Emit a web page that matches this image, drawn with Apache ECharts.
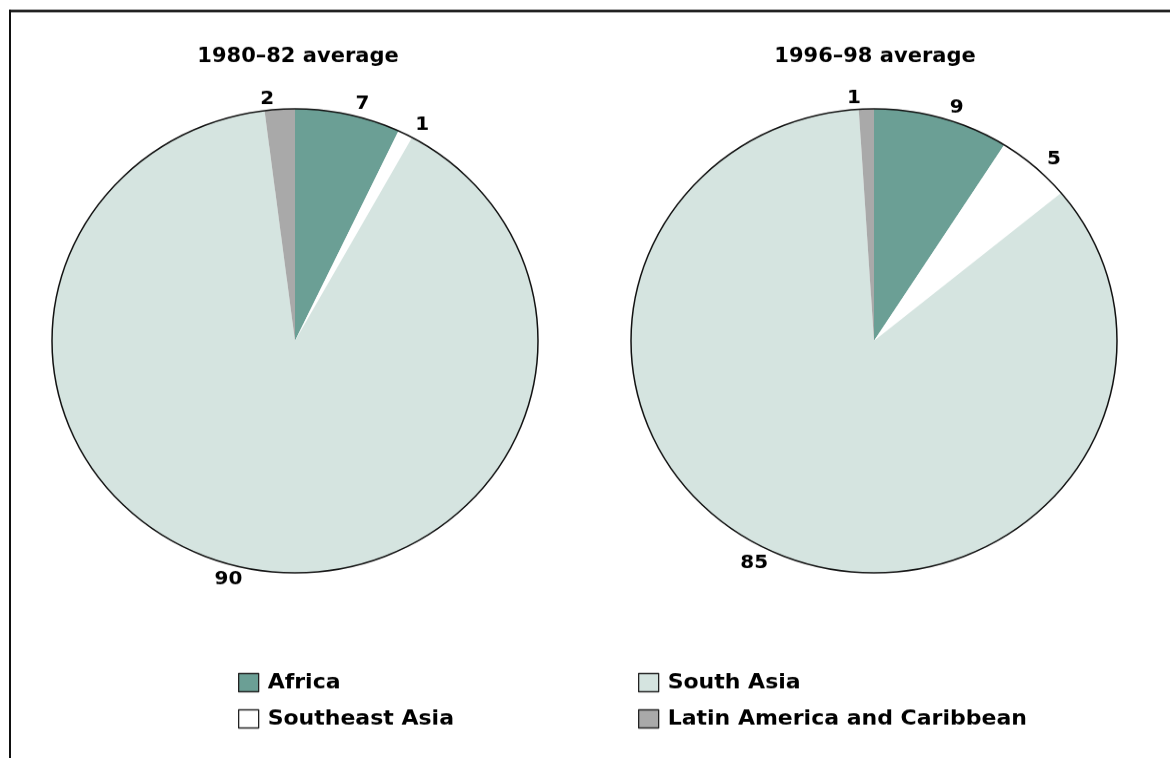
<!DOCTYPE html>
<html>
<head>
<meta charset="utf-8">
<script src="https://cdn.jsdelivr.net/npm/echarts@6/dist/echarts.min.js"></script>
<style>
  html, body { margin: 0; padding: 0; background: #fff; overflow: hidden; }
  /* the drawing is laid out on a taller canvas and squeezed vertically,
     which gives the slightly flattened pies and wide lettering */
  #chart { width: 1170px; height: 794px; transform: scaleY(0.9547); transform-origin: 0 0; }
</style>
</head>
<body>
<div id="chart"></div>
<script>
// Regions, in the clockwise order the slices are drawn from 12 o'clock
const regions = ['Africa', 'Southeast Asia', 'South Asia', 'Latin America and Caribbean'];
const regionColors = ['#6b9f95', '#ffffff', '#d5e4e0', '#a9a9a9'];

// Percentage shares for each period
const periodTitles = ['1980\u201382 average', '1996\u201398 average'];
const shares1980 = [7, 1, 90, 2];
const shares1996 = [9, 5, 85, 1];

const chart = echarts.init(document.getElementById('chart'));

const FONT = 'DejaVu Sans, Liberation Sans, sans-serif';
const centers = [[295, 357], [874, 357]];
const radius = 243;

function pieSeries(values, center) {
  return {
    type: 'pie',
    center: center,
    radius: radius,
    startAngle: 90,
    clockwise: true,
    avoidLabelOverlap: false,
    animation: false,
    itemStyle: { borderWidth: 0 },
    emphasis: { disabled: true },
    label: {
      show: true,
      position: 'outside',
      formatter: '{c}',
      color: '#000',
      fontFamily: FONT,
      fontWeight: 'bold',
      fontSize: 20
    },
    labelLine: { show: false, length: 11, length2: 0 },
    data: regions.map((name, i) => ({
      name: name,
      value: values[i],
      itemStyle: { color: regionColors[i] }
    }))
  };
}

// Thin dark ring drawn over each pie's rim
function outlineSeries(center) {
  return {
    type: 'pie',
    center: center,
    radius: radius,
    silent: true,
    animation: false,
    label: { show: false },
    labelLine: { show: false },
    itemStyle: { color: 'rgba(0,0,0,0)', borderColor: '#111', borderWidth: 1.5 },
    data: [{ name: 'outline', value: 1 }],
    z: 5
  };
}

const legendText = {
  fontFamily: FONT, fontWeight: 'bold', fontSize: 22, color: '#000',
  padding: [0, 0, 0, 4]
};
const legendItem = { borderColor: '#222', borderWidth: 1.3 };

function legendBlock(names, left) {
  return {
    data: names,
    orient: 'vertical',
    left: left, top: 704,
    padding: 0,
    itemWidth: 20, itemHeight: 19, itemGap: 16,
    icon: 'rect',
    selectedMode: false,
    textStyle: legendText,
    itemStyle: legendItem
  };
}

chart.setOption({
  backgroundColor: '#ffffff',
  title: periodTitles.map((t, i) => ({
    text: t,
    left: centers[i][0] + (i === 0 ? 3 : 1),
    top: 49,
    padding: 0,
    textAlign: 'center',
    textStyle: { fontFamily: FONT, fontWeight: 'bold', fontSize: 21, color: '#000' }
  })),
  legend: [
    legendBlock([regions[0], regions[1]], 238),
    legendBlock([regions[2], regions[3]], 638)
  ],
  graphic: [
    { type: 'line', shape: { x1: 9, y1: 11.5, x2: 1170, y2: 11.5 }, style: { stroke: '#000', lineWidth: 2.6 } },
    { type: 'line', shape: { x1: 10, y1: 10, x2: 10, y2: 794 }, style: { stroke: '#111', lineWidth: 2 } }
  ],
  series: [
    pieSeries(shares1980, centers[0]),
    pieSeries(shares1996, centers[1]),
    outlineSeries(centers[0]),
    outlineSeries(centers[1])
  ]
});
</script>
</body>
</html>
